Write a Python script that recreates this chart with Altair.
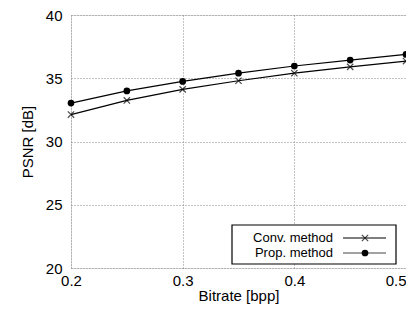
import altair as alt
import pandas as pd

bitrate = [0.2, 0.25, 0.3, 0.35, 0.4, 0.45, 0.5]
conv_psnr = [32.13, 33.25, 34.12, 34.8, 35.4, 35.9, 36.36]
prop_psnr = [33.04, 34.0, 34.75, 35.4, 35.97, 36.44, 36.88]
series_names = ["Conv. method", "Prop. method"]

df = pd.DataFrame({
    "bitrate": bitrate * 2,
    "psnr": conv_psnr + prop_psnr,
    "method": [series_names[0]] * len(bitrate) + [series_names[1]] * len(bitrate),
})

FONT = "Liberation Sans"
W, H = 335, 253

xs = alt.Scale(domain=[0.2, 0.5], nice=False, zero=False)
ys = alt.Scale(domain=[20, 40], nice=False, zero=False)

xaxis = alt.Axis(values=[0.2, 0.3, 0.4, 0.5], format=".1f", title="Bitrate [bpp]",
                 grid=True, gridColor="#888", gridDash=[1, 2], gridWidth=1,
                 ticks=False, domain=False, labelFont=FONT, labelFontSize=15,
                 labelColor="black", labelPadding=5, titleFont=FONT, titleFontSize=15,
                 titleFontWeight="normal", titleColor="black", titlePadding=0,
                 labelFlush=False,
                 labelAlign=alt.expr("datum.value >= 0.5 ? 'right' : 'center'"))
yaxis = alt.Axis(values=[20, 25, 30, 35, 40], title="PSNR [dB]",
                 grid=True, gridColor="#888", gridDash=[1, 2], gridWidth=1,
                 ticks=False, domain=False, labelFont=FONT, labelFontSize=15,
                 labelColor="black", labelPadding=9, titleFont=FONT, titleFontSize=15,
                 titleFontWeight="normal", titleColor="black", titlePadding=10,
                 labelFlush=False)

cross = "M-1,-1L1,1M-1,1L1,-1"

base = alt.Chart(df)
lines = base.mark_line(color="black", strokeWidth=1.2).encode(
    x=alt.X("bitrate:Q", scale=xs, axis=xaxis),
    y=alt.Y("psnr:Q", scale=ys, axis=yaxis),
    detail="method:N",
)
conv_pts = base.transform_filter(alt.datum.method == series_names[0]).mark_point(
    shape=cross, filled=False, color="black", size=40, strokeWidth=1.2).encode(
    x=alt.X("bitrate:Q", scale=xs), y=alt.Y("psnr:Q", scale=ys))
prop_pts = base.transform_filter(alt.datum.method == series_names[1]).mark_point(
    shape="circle", filled=True, color="black", size=45, opacity=1).encode(
    x=alt.X("bitrate:Q", scale=xs), y=alt.Y("psnr:Q", scale=ys))

# legend (drawn in pixel space of the plot area)
ROW_Y = [223, 238]
box = alt.Chart(pd.DataFrame({"a": [0]})).mark_rect(
    fill="white", stroke="black", strokeWidth=1.2).encode(
    x=alt.value(161), x2=alt.value(325), y=alt.value(210), y2=alt.value(249))

leg_layers = [box]
for i, name in enumerate(series_names):
    d = alt.Chart(pd.DataFrame({"name": [name]}))
    leg_layers.append(d.mark_rule(color="black" if i == 0 else "#444", strokeWidth=1.2).encode(
        x=alt.value(272), x2=alt.value(315), y=alt.value(ROW_Y[i])))
    leg_layers.append(d.mark_text(align="right", baseline="middle", font=FONT, fontSize=13,
                                  color="black").encode(
        x=alt.value(262), y=alt.value(ROW_Y[i]), text="name:N"))
    if i == 0:
        leg_layers.append(d.mark_point(shape=cross, filled=False, color="black", size=40,
                                       strokeWidth=1.2).encode(
            x=alt.value(294), y=alt.value(ROW_Y[i])))
    else:
        leg_layers.append(d.mark_point(shape="circle", filled=True, color="black", size=45,
                                       opacity=1).encode(
            x=alt.value(294), y=alt.value(ROW_Y[i])))

chart = alt.layer(lines, conv_pts, prop_pts, *leg_layers).properties(
    width=W, height=H,
    autosize=alt.AutoSizeParams(type="none"),
    padding={"left": 63, "top": 7, "right": 0, "bottom": 37},
).configure_view(stroke="black", strokeWidth=1.5).configure(background="white")

chart.save("out.html", embed_options={"renderer": "svg", "actions": False})
